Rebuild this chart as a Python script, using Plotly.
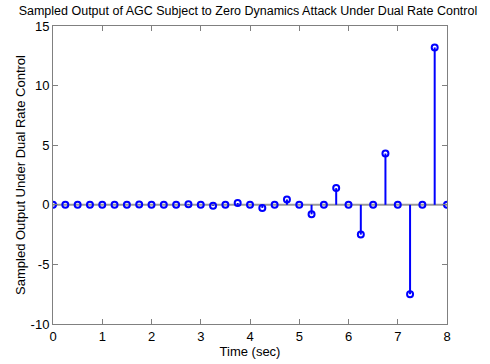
import plotly.graph_objects as go

time = [i * 0.25 for i in range(33)]
values = [0, 0, 0, 0, 0, 0, 0, 0.015, 0, 0, 0, 0.05, 0, -0.08, 0, 0.15,
          0, -0.26, 0, 0.45, 0, -0.8, 0, 1.4, 0, -2.5, 0, 4.3, 0, -7.5, 0, 13.2, 0]

xticks = [0, 1, 2, 3, 4, 5, 6, 7, 8]
yticks = [-10, -5, 0, 5, 10, 15]
yticklabels = ["-10", "-5", "0", "5", "10", "15"]

stem_x, stem_y = [], []
for t, v in zip(time, values):
    stem_x += [t, t, None]
    stem_y += [0, v, None]

blue = "#0000ff"
fig = go.Figure()
fig.add_trace(go.Scatter(x=[time[0], time[-1]], y=[0, 0], mode="lines",
                         line=dict(color="#999999", width=2), hoverinfo="skip"))
fig.add_trace(go.Scatter(x=stem_x, y=stem_y, mode="lines",
                         line=dict(color=blue, width=2), hoverinfo="skip"))
fig.add_trace(go.Scatter(x=time, y=values, mode="markers",
                         marker=dict(symbol="circle-open", size=6, color=blue,
                                     line=dict(width=2, color=blue))))

axis_common = dict(showgrid=False, zeroline=False, showline=True, linecolor="#808080",
                   linewidth=1, mirror="ticks", ticks="inside", ticklen=5,
                   tickcolor="#808080", tickfont=dict(size=13, color="black"),
                   automargin=False)
fig.update_layout(
    width=490, height=364, showlegend=False,
    paper_bgcolor="white", plot_bgcolor="white",
    margin=dict(l=53, r=43, t=26, b=40),
    font=dict(family="Liberation Sans, Arial, sans-serif", size=13, color="black"),
    title=dict(text="Sampled Output of AGC Subject to Zero Dynamics Attack Under Dual Rate Control",
               x=0.506, xref="container", xanchor="center", y=1 - 11 / 364, yref="container",
               yanchor="middle", automargin=False,
               font=dict(size=12.5)),
    xaxis=dict(range=[0, 8], tickvals=xticks,
               title=dict(text="Time (sec)", standoff=0, font=dict(size=13)), **axis_common),
    yaxis=dict(range=[-10, 15], tickvals=yticks, ticktext=yticklabels,
               title=dict(text="Sampled Output Under Dual Rate Control", standoff=2, font=dict(size=13)),
               **axis_common),
)
fig.write_html("out.html", config={"displayModeBar": False},
               post_script="document.body.style.margin='0';document.body.style.padding='0';")
